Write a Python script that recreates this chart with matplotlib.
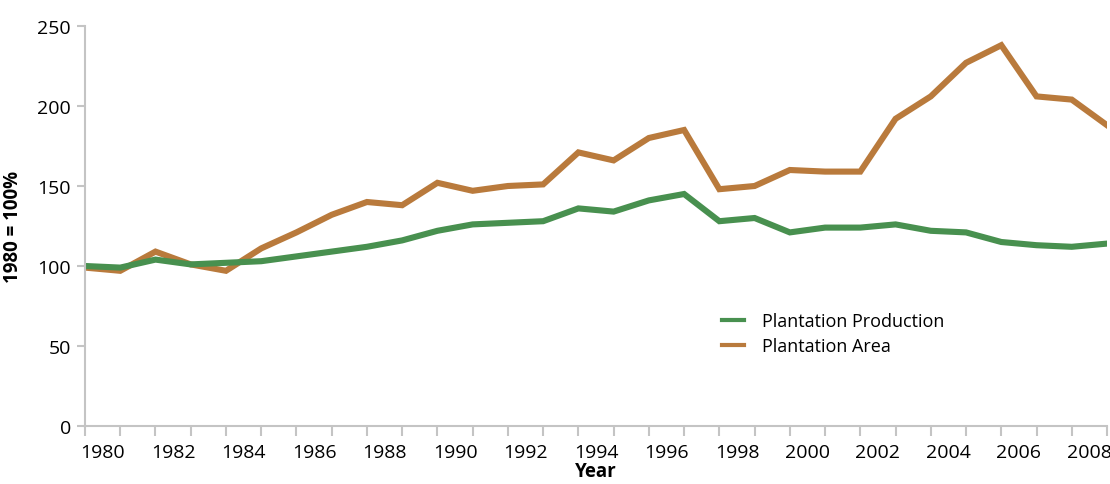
import matplotlib
matplotlib.use("Agg")
import matplotlib.pyplot as plt

plt.rcParams['font.family'] = ['Open Sans', 'DejaVu Sans']

years = list(range(1980, 2010))
production = [100, 99, 104, 101, 102, 103, 106, 109, 112, 116,
              122, 126, 127, 128, 136, 134, 141, 145, 128, 130,
              121, 124, 124, 126, 122, 121, 115, 113, 112, 114]
area = [99, 97, 109, 101, 97, 111, 121, 132, 140, 138,
        152, 147, 150, 151, 171, 166, 180, 185, 148, 150,
        160, 159, 159, 192, 206, 227, 238, 206, 204, 188]
label_years = list(range(1980, 2009, 2))

green = '#48904f'
orange = '#b97a3c'
grey = '#c4c4c4'

fig = plt.figure(figsize=(11.1, 4.85), dpi=100)
ax = fig.add_axes([85/1110, 1-427/485, (1107-85)/1110, 400/485])

l_area, = ax.plot(years, area, color=orange, lw=4.4, solid_joinstyle='miter', label='Plantation Area')
l_prod, = ax.plot(years, production, color=green, lw=4.4, solid_joinstyle='miter', label='Plantation Production')

ax.set_xlim(1980, 2009)
ax.set_ylim(0, 250)
ax.set_yticks([0, 50, 100, 150, 200, 250])

# tick marks on every year, labels centred between ticks
ax.set_xticks(years)
ax.set_xticklabels([])
ax.set_xticks([y + 0.5 for y in label_years], minor=True)
ax.set_xticklabels([str(y) for y in label_years], minor=True)
ax.tick_params(axis='x', which='major', length=7, width=1.5, color=grey)
ax.tick_params(axis='x', which='minor', length=0, pad=12, labelsize=14)
ax.tick_params(axis='y', length=6, width=1.5, color=grey, labelsize=14, pad=4)

for s in ['top', 'right']:
    ax.spines[s].set_visible(False)
for s in ['left', 'bottom']:
    ax.spines[s].set_color(grey)
    ax.spines[s].set_linewidth(1.5)

ax.set_xlabel('Year', fontsize=13.5, fontweight='bold', labelpad=0)
ax.set_ylabel('1980 = 100%', fontsize=13.5, fontweight='bold', labelpad=10)

ax.legend(handles=[l_prod, l_area], loc='upper left', bbox_to_anchor=(0.623, 0.285),
          frameon=False, handlelength=1.25, handletextpad=1.0, fontsize=13,
          labelspacing=0.4, borderpad=0, borderaxespad=0)
for h in ax.get_legend().get_lines():
    h.set_linewidth(3)

fig.savefig('out.png', dpi=100)
